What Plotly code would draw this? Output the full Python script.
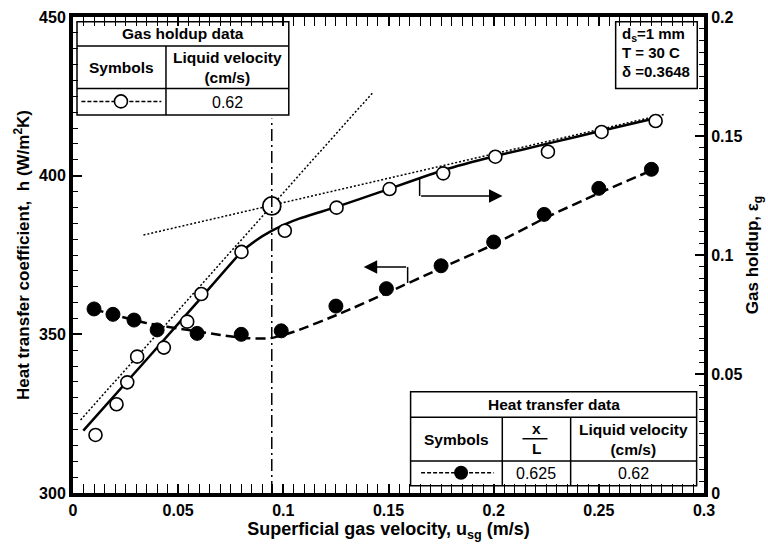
import plotly.graph_objects as go

# Heat transfer data (filled circles, left axis)
ht_usg = [0.010, 0.019, 0.029, 0.040, 0.059, 0.080, 0.099, 0.125, 0.149, 0.175, 0.200, 0.224, 0.250, 0.275]
ht_h = [358.0, 356.3, 354.5, 351.4, 350.3, 350.0, 351.1, 358.9, 364.4, 371.6, 379.1, 387.8, 396.0, 402.0]

# Trend curve through the heat transfer data
ht_fit_usg = [0.0098, 0.0186, 0.0353, 0.0543, 0.0701, 0.0828, 0.0939, 0.1050, 0.1272, 0.1487,
              0.1748, 0.1996, 0.2243, 0.2497, 0.2749]
ht_fit_h = [358.0, 356.3, 353.5, 351.4, 349.8, 348.8, 348.8, 350.8, 356.6, 362.9,
            370.8, 378.2, 386.6, 394.4, 401.6]

# Gas holdup data (open circles, right axis)
gh_usg = [0.0107, 0.0207, 0.0258, 0.0305, 0.0432, 0.0543, 0.0610, 0.0801, 0.1007, 0.1253,
          0.1505, 0.1760, 0.2008, 0.2258, 0.2513, 0.2770]
gh_eps = [0.0244, 0.0373, 0.0465, 0.0573, 0.0611, 0.0720, 0.0836, 0.1013, 0.1102, 0.1199,
          0.1277, 0.1343, 0.1413, 0.1434, 0.1517, 0.1563]

# Trend curve through the gas holdup data
gh_fit_usg = [0.0049, 0.0369, 0.0606, 0.0801, 0.0873, 0.0944, 0.1010, 0.1082, 0.1253, 0.1462,
              0.1762, 0.2009, 0.2271, 0.2508, 0.2794]
gh_fit_eps = [0.0262, 0.0580, 0.0817, 0.1013, 0.1063, 0.1101, 0.1130, 0.1155, 0.1202, 0.1265,
              0.1357, 0.1416, 0.1471, 0.1521, 0.1580]

# Tangent lines for the two flow regimes
tan_low_usg = [0.0036, 0.1423]
tan_low_eps = [0.0307, 0.1680]
tan_high_usg = [0.0335, 0.2817]
tan_high_eps = [0.1084, 0.1592]

# Regime transition point
trans_usg = [0.0945]
trans_eps = [0.1206]

FONT = "Liberation Sans"
BLACK = "#000000"

fig = go.Figure()

fig.add_trace(go.Scatter(x=tan_low_usg, y=tan_low_eps, yaxis="y2", mode="lines",
                         line=dict(color=BLACK, width=1.5, dash="2px,2px"), showlegend=False))
fig.add_trace(go.Scatter(x=tan_high_usg, y=tan_high_eps, yaxis="y2", mode="lines",
                         line=dict(color=BLACK, width=1.5, dash="2px,2px"), showlegend=False))
fig.add_trace(go.Scatter(x=gh_fit_usg, y=gh_fit_eps, yaxis="y2", mode="lines",
                         line=dict(color=BLACK, width=2.5, shape="spline", smoothing=0.4),
                         showlegend=False))
fig.add_trace(go.Scatter(x=ht_fit_usg, y=ht_fit_h, mode="lines",
                         line=dict(color=BLACK, width=2.5, dash="10px,5px", shape="spline",
                                   smoothing=0.6),
                         showlegend=False))
fig.add_trace(go.Scatter(x=ht_usg, y=ht_h, mode="markers",
                         marker=dict(color=BLACK, size=14, symbol="circle",
                                     line=dict(color=BLACK, width=1)),
                         showlegend=False))
fig.add_trace(go.Scatter(x=gh_usg, y=gh_eps, yaxis="y2", mode="markers",
                         marker=dict(color="white", size=13, symbol="circle",
                                     line=dict(color=BLACK, width=1.6)),
                         showlegend=False))
fig.add_trace(go.Scatter(x=trans_usg, y=trans_eps, yaxis="y2", mode="markers",
                         marker=dict(color="white", size=18, symbol="circle",
                                     line=dict(color=BLACK, width=1.8)),
                         showlegend=False))

shapes = []
annotations = []

# Vertical dash-dot marker at the transition velocity
shapes.append(dict(type="line", xref="x", yref="y", x0=trans_usg[0], x1=trans_usg[0],
                   y0=300, y1=418, line=dict(color=BLACK, width=1.5, dash="12px,4px,2px,4px")))

# Bent arrows pointing to the relevant axis
shapes.append(dict(type="line", xref="x", yref="y2", x0=0.1648, x1=0.1648, y0=0.1324, y1=0.1248,
                   line=dict(color=BLACK, width=1.5)))
annotations.append(dict(x=0.2042, y=0.1248, xref="x", yref="y2", ax=0.1648, ay=0.1248,
                        axref="x", ayref="y2", text="", showarrow=True, arrowhead=2,
                        arrowsize=1.8, arrowwidth=1.5, arrowcolor=BLACK))
shapes.append(dict(type="line", xref="x", yref="y", x0=0.1591, x1=0.1591, y0=366.2, y1=371.2,
                   line=dict(color=BLACK, width=1.5)))
annotations.append(dict(x=0.1382, y=371.2, xref="x", yref="y", ax=0.1591, ay=371.2,
                        axref="x", ayref="y", text="", showarrow=True, arrowhead=2,
                        arrowsize=1.8, arrowwidth=1.5, arrowcolor=BLACK))


def box(x0, x1, y0, y1):
    shapes.append(dict(type="rect", xref="x", yref="y", x0=x0, x1=x1, y0=y0, y1=y1,
                       line=dict(color=BLACK, width=1.5), fillcolor="rgba(0,0,0,0)",
                       layer="above"))


def hline(x0, x1, y):
    shapes.append(dict(type="line", xref="x", yref="y", x0=x0, x1=x1, y0=y, y1=y,
                       line=dict(color=BLACK, width=1.5), layer="above"))


def vline(x, y0, y1):
    shapes.append(dict(type="line", xref="x", yref="y", x0=x, x1=x, y0=y0, y1=y1,
                       line=dict(color=BLACK, width=1.5), layer="above"))


def label(x, y, text, size=15.5, bold=True, align="center", xanchor="center"):
    annotations.append(dict(x=x, y=y, xref="x", yref="y", text=text, showarrow=False,
                            align=align, xanchor=xanchor, yanchor="middle",
                            font=dict(family=FONT, size=size, color=BLACK,
                                      weight="bold" if bold else "normal")))


# Gas holdup table (top left)
box(0.0019, 0.1026, 419.1, 448.5)
hline(0.0019, 0.1026, 440.9)
hline(0.0019, 0.1026, 427.5)
vline(0.0442, 419.1, 440.9)
label(0.0523, 444.7, "Gas holdup data")
label(0.0232, 434.2, "Symbols")
label(0.0735, 434.2, "Liquid velocity<br>(cm/s)")
label(0.0735, 423.2, "0.62", size=16, bold=False)

# Operating conditions box (top right)
box(0.2580, 0.2968, 427.5, 448.5)
label(0.2602, 444.6, "d<sub>s</sub>=1 mm", size=15, xanchor="left", align="left")
label(0.2602, 438.7, "T = 30 C", size=15, xanchor="left", align="left")
label(0.2602, 432.8, "δ =0.3648", size=15, xanchor="left", align="left")

# Heat transfer table (bottom right)
box(0.1605, 0.2965, 302.3, 331.9)
hline(0.1605, 0.2965, 323.9)
hline(0.1605, 0.2965, 310.1)
vline(0.2041, 302.3, 323.9)
vline(0.2366, 302.3, 323.9)
label(0.2285, 328.0, "Heat transfer data")
label(0.1823, 317.0, "Symbols")
label(0.2203, 320.3, "x")
hline(0.2137, 0.2256, 317.1)
label(0.2203, 313.9, "L")
label(0.2665, 317.0, "Liquid velocity<br>(cm/s)")
label(0.2203, 306.0, "0.625", size=16, bold=False)
label(0.2665, 306.0, "0.62", size=16, bold=False)

# Symbol keys inside the tables
fig.add_trace(go.Scatter(x=[0.0040, 0.0420], y=[423.4, 423.4], mode="lines",
                         line=dict(color=BLACK, width=1.5, dash="4px,2px"),
                         cliponaxis=False, showlegend=False))
fig.add_trace(go.Scatter(x=[0.0228], y=[423.4], mode="markers", cliponaxis=False,
                         marker=dict(color="white", size=13, line=dict(color=BLACK, width=1.6)),
                         showlegend=False))
fig.add_trace(go.Scatter(x=[0.1655, 0.2000], y=[306.4, 306.4], mode="lines",
                         line=dict(color=BLACK, width=1.5, dash="4px,2px"),
                         cliponaxis=False, showlegend=False))
fig.add_trace(go.Scatter(x=[0.1845], y=[306.4], mode="markers", cliponaxis=False,
                         marker=dict(color=BLACK, size=14), showlegend=False))

tickfont = dict(family=FONT, size=16, color=BLACK, weight="bold")
xtitlefont = dict(family=FONT, size=18, color=BLACK, weight="bold")
ytitlefont = dict(family=FONT, size=17, color=BLACK, weight="bold")

fig.update_layout(
    width=768, height=544,
    margin=dict(l=73, r=64, t=17, b=51, autoexpand=False),
    plot_bgcolor="white", paper_bgcolor="white",
    shapes=shapes, annotations=annotations,
    xaxis=dict(range=[0, 0.3], dtick=0.05, tick0=0, ticks="inside", ticklen=9, tickwidth=1.5,
               tickcolor=BLACK, showline=True, linewidth=4, linecolor=BLACK, mirror="allticks",
               showgrid=False, zeroline=False, tickfont=tickfont, automargin=False,
               minor=dict(dtick=0.005, ticks="inside", ticklen=5, tickwidth=1, tickcolor=BLACK),
               title=dict(text="Superficial gas velocity, u<sub>sg</sub> (m/s)", font=xtitlefont,
                          standoff=1)),
    yaxis=dict(range=[300, 450], dtick=50, tick0=300, ticks="inside", ticklen=9, tickwidth=1.5,
               tickcolor=BLACK, showline=True, linewidth=4, linecolor=BLACK,
               showgrid=False, zeroline=False, tickfont=tickfont, automargin=False,
               minor=dict(dtick=5, ticks="inside", ticklen=5, tickwidth=1, tickcolor=BLACK),
               title=dict(text="Heat transfer coefficient,  h (W/m<sup>2</sup>K)", font=ytitlefont,
                          standoff=6)),
    yaxis2=dict(range=[0, 0.2], dtick=0.05, tick0=0, overlaying="y", side="right",
                ticks="inside", ticklen=9, tickwidth=1.5, tickcolor=BLACK, showline=True,
                linewidth=4, linecolor=BLACK, showgrid=False, zeroline=False, tickfont=tickfont,
                automargin=False,
                minor=dict(dtick=0.005, ticks="inside", ticklen=5, tickwidth=1, tickcolor=BLACK),
                title=dict(text="Gas holdup, ε<sub>g</sub>", font=ytitlefont, standoff=6)),
)

fig.write_html("out.html")
